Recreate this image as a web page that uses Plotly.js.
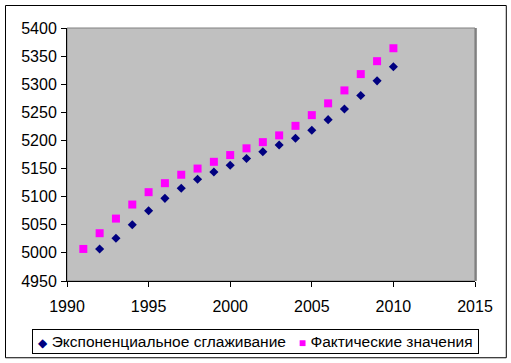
<!DOCTYPE html>
<html>
<head>
<meta charset="utf-8">
<script src="https://cdn.plot.ly/plotly-3.0.1.min.js"></script>
<style>
html,body{margin:0;padding:0;background:#fff;}
#chart{width:511px;height:363px;}
</style>
</head>
<body>
<div id="chart"></div>
<script>
// Data
const smoothYears = [1992,1993,1994,1995,1996,1997,1998,1999,2000,2001,2002,2003,2004,2005,2006,2007,2008,2009,2010];
const smoothValues = [5007,5026,5050,5075,5097,5115,5131,5144,5156,5168,5180,5192,5204,5218,5237,5256,5280,5306,5331];
const actualYears = [1991,1992,1993,1994,1995,1996,1997,1998,1999,2000,2001,2002,2003,2004,2005,2006,2007,2008,2009,2010];
const actualValues = [5007,5035,5061,5086,5108,5124,5139,5150,5162,5174,5186,5197,5209,5226,5245,5266,5289,5318,5341,5364];
const seriesNames = ["Экспоненциальное сглаживание", "Фактические значения"];
const xTicks = [1990,1995,2000,2005,2010,2015];
const yTicks = [4950,5000,5050,5100,5150,5200,5250,5300,5350,5400];

const FONT = "'Liberation Sans', Arial, sans-serif";
const COLORS = ['#000080', '#FF00FF'];

const traces = [
  {
    x: smoothYears, y: smoothValues, name: seriesNames[0],
    type: 'scatter', mode: 'markers',
    marker: {symbol: 'diamond', size: 7, color: COLORS[0]}
  },
  {
    x: actualYears, y: actualValues, name: seriesNames[1],
    type: 'scatter', mode: 'markers',
    marker: {symbol: 'square', size: 8, color: COLORS[1]}
  }
];

// Legend drawn as a single bordered annotation (Excel-style compact spacing)
const NB = '\u00A0';
const legendText =
  "<span style='color:" + COLORS[0] + ";font-size:12px'>◆</span>" + NB + seriesNames[0] +
  NB + NB + NB + "<span style='color:" + COLORS[1] + ";font-size:12px'>■</span>" + NB + seriesNames[1];

const layout = {
  width: 511, height: 363,
  margin: {l: 67, r: 36, t: 28, b: 82, pad: 0, autoexpand: false},
  paper_bgcolor: '#ffffff',
  plot_bgcolor: '#C0C0C0',
  font: {family: FONT, size: 16, color: '#000'},
  showlegend: false,
  xaxis: {
    range: [1990, 2015],
    tickvals: xTicks, ticktext: xTicks.map(String),
    showgrid: false, zeroline: false,
    showline: true, linecolor: '#000', linewidth: 1,
    ticks: 'outside', ticklen: 5, tickcolor: '#000', tickwidth: 1,
    ticklabelstandoff: 6,
    fixedrange: true
  },
  yaxis: {
    range: [4950, 5400],
    tickvals: yTicks, ticktext: yTicks.map(String),
    showgrid: false, zeroline: false,
    showline: true, linecolor: '#000', linewidth: 1,
    ticks: 'outside', ticklen: 5, tickcolor: '#000', tickwidth: 1,
    ticklabelstandoff: 1,
    fixedrange: true
  },
  annotations: [
    {
      xref: 'paper', yref: 'paper',
      x: 0.462, y: -0.239, xanchor: 'center', yanchor: 'middle',
      text: legendText, showarrow: false,
      font: {family: FONT, size: 15.5, color: '#000'},
      width: 445, height: 23, align: 'center', valign: 'middle',
      bgcolor: '#fff', bordercolor: '#000', borderwidth: 1, borderpad: 0
    }
  ],
  shapes: [
    // plot-area border (gray top/right)
    {type: 'rect', xref: 'paper', yref: 'paper', x0: 0, x1: 1, y0: 0, y1: 1,
     line: {color: '#808080', width: 1}, layer: 'below'},
    {type: 'line', xref: 'paper', yref: 'paper', x0: 1.002, x1: 1.002, y0: 0, y1: 1,
     line: {color: '#808080', width: 2}},
    // outer chart border
    {type: 'rect', xref: 'paper', yref: 'paper',
     x0: -0.1507, x1: 1.0767, y0: -0.3034, y1: 1.0889,
     line: {color: '#000', width: 1}, fillcolor: 'rgba(0,0,0,0)'}
  ]
};

Plotly.newPlot('chart', traces, layout, {displayModeBar: false, staticPlot: true});
</script>
</body>
</html>
